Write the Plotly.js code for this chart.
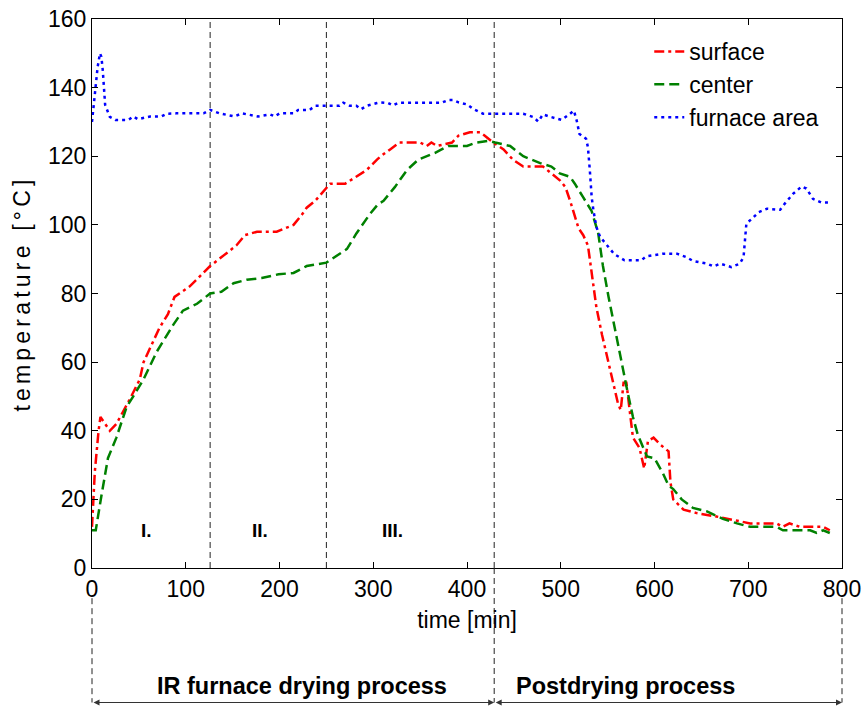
<!DOCTYPE html>
<html>
<head>
<meta charset="utf-8">
<script src="https://cdn.plot.ly/plotly-3.0.1.min.js"></script>
<style>
html,body{margin:0;padding:0;background:#fff;}
#chart{width:866px;height:706px;}
#chart .ytitle{letter-spacing:4.2px;}
</style>
</head>
<body>
<div id="chart"></div>
<script>
// ---- data (time in min, temperature in °C) ----
const surfaceTime = [0,3,7,9,14,19,26,40,51,55,72,81,88,104,126,140,154,163,176,197,215,224,229,238,250,254,270,282,293,304,308,318,328,350,357,362,368,384,391,403,414,419,428,439,449,460,474,481,490,499,505,510,519,524,529,533,538,544,549,556,561,564,567,570,574,577,584,589,593,599,606,615,617,620,631,645,666,684,702,730,737,744,755,766,780,787];
const surfaceTemp = [12,28,40,44,42,40,42,49,55,60,70,74,79,82,88,91,94,97,98,98,100,103,105,107,111,112,112,114,116,119,120,122,124,124,123,124,123,124,126,127,127,126,124,122,119,117,117,117,115,113,111,107,99,97,94,86,76,68,62,54,48,46,54,54,44,38,35,29,37,38,36,34,25,20,17,16,15,14,13,13,12,13,12,12,12,11];

const centerTime = [0,4,10,17,26,37,44,55,69,87,97,112,126,138,151,165,181,199,215,229,250,272,282,296,305,311,323,336,348,366,380,400,410,423,430,446,460,478,490,499,510,515,524,533,540,545,551,556,563,570,577,582,585,590,592,600,609,615,620,629,641,656,673,688,702,730,737,766,773,780,787];
const centerTemp = [11,11,21,32,38,47,50,55,63,71,75,77,80,80.5,83,84,84.5,85.6,86,88,89,93,97.5,103,106,107,111,116,119,121,123,123,124,124.5,124,123,120,118,117,115,114,112,108,104,97.5,88,79,72,62,53,44,39,37,34,32.5,32,27.6,24,23,20,17.5,16.5,14.3,13,12,12,11,11,10.2,11,10.2];

const furnaceTime = [0,3,6,8.5,10,11.5,14,19,25,39,44,49,62,74,80,90,119,126,136,152,160,177,190,195,200,215,220,232,238,264,268,275,282,287,293,304,307,316,321,327,373,380,385,391,400,407,417,460,471,476,481,490,501,510,514,517,520,527,529,531,533,535,538,542,549,557,568,586,591,600,609,624,634,641,656,663,670,682,691,695,698,704,711,720,734,739,748,757,762,769,778,787];
const furnaceTemp = [130,139,146,150,149,145,135,131.5,130.6,130.6,131.6,130.8,131.6,131.6,132.4,132.5,132.5,133.5,132.5,131.6,132.5,131.6,132.2,131.6,132.5,132.5,133.5,133.5,134.7,134.7,135.6,134.7,134.7,133.7,134.7,135.5,135.7,135.5,134.8,135.6,135.6,136.4,136.4,135.7,135.1,133.7,132.4,132.4,131.4,130.1,132.2,131.4,130.6,132.4,133.3,130.4,126.5,125.1,122.6,116,108,104,99.4,96.5,94,91.5,89.7,89.7,90.8,91.2,91.6,91.6,90.6,89.5,88.7,87.9,88.7,87.7,88.7,90.6,100.4,101.8,103.7,104.7,104.4,106.2,109.1,111.2,110.6,107.6,106.5,106.5];

const seriesNames = ["surface", "center", "furnace area"];
const phaseBounds = [126, 250, 429];          // dashed lines inside the plot
const processBounds = [0, 429, 800];          // dashed lines below the plot
const phaseLabels = ["I.", "II.", "III."];
const phaseLabelTime = [58, 179, 320];
const phaseLabelTemp = [11, 11, 11];
const processLabels = ["IR furnace drying process", "Postdrying process"];
const processLabelTime = [223.5, 569.5];
const xTicks = [0,100,200,300,400,500,600,700,800];
const yTicks = [0,20,40,60,80,100,120,140,160];
const xRange = [0, 800];
const yRange = [0, 160];

// ---- figure ----
const FONT = '"Liberation Sans", Arial, Helvetica, sans-serif';
const traces = [
  {x: surfaceTime, y: surfaceTemp, name: seriesNames[0], mode: 'lines',
   line: {color: '#ff0000', width: 2.5, dash: '10px,4px,3px,4px'}},
  {x: centerTime, y: centerTemp, name: seriesNames[1], mode: 'lines',
   line: {color: '#008000', width: 2.5, dash: '10px,5px'}},
  {x: furnaceTime, y: furnaceTemp, name: seriesNames[2], mode: 'lines',
   line: {color: '#0000ff', width: 2.5, dash: '3px,4px'}}
];

const span = xRange[1] - xRange[0];
const toPaper = t => (t - xRange[0]) / span;
const bottomY = -0.245;

const shapes = [];
phaseBounds.forEach(t => shapes.push({type: 'line', xref: 'x', yref: 'y', x0: t, x1: t, y0: yRange[0], y1: yRange[1],
  line: {color: '#222', width: 1, dash: '6px,4px'}, layer: 'below'}));
processBounds.forEach((t, i) => {
  const top = (i === 1) ? 0 : -0.055;
  shapes.push({type: 'line', xref: 'paper', yref: 'paper', x0: toPaper(t), x1: toPaper(t), y0: top, y1: bottomY,
    line: {color: '#222', width: 1, dash: '6px,4px'}});
});

const annotations = [];
phaseLabels.forEach((txt, i) => annotations.push({text: '<b>' + txt + '</b>', x: phaseLabelTime[i], y: phaseLabelTemp[i],
  xref: 'x', yref: 'y', showarrow: false, font: {family: FONT, size: 19, color: '#000'}}));
processLabels.forEach((txt, i) => annotations.push({text: '<b>' + txt + '</b>',
  x: processLabelTime[i], y: -0.242,
  xref: 'x', yref: 'paper', showarrow: false, font: {family: FONT, size: 23.5, color: '#000'}}));
for (let i = 0; i < 2; i++) {
  annotations.push({text: '', xref: 'paper', yref: 'paper', axref: 'paper', ayref: 'paper',
    x: toPaper(processBounds[i + 1]), y: bottomY, ax: toPaper(processBounds[i]), ay: bottomY,
    showarrow: true, arrowside: 'end+start', arrowhead: 2, arrowsize: 1, arrowwidth: 1.2, arrowcolor: '#333',
    standoff: 0, startstandoff: 0});
}

const axisCommon = {showline: true, linecolor: '#000', linewidth: 1, mirror: 'ticks', ticks: 'inside',
  ticklen: 6, tickcolor: '#000', showgrid: false, zeroline: false,
  tickfont: {family: FONT, size: 23, color: '#000'}};

const layout = {
  width: 866, height: 706,
  margin: {l: 92, r: 24, t: 19, b: 138},
  paper_bgcolor: '#fff', plot_bgcolor: '#fff',
  font: {family: FONT, color: '#000'},
  xaxis: Object.assign({}, axisCommon, {range: xRange, tickvals: xTicks, ticktext: xTicks.map(String),
    title: {text: 'time [min]', font: {family: FONT, size: 23, color: '#000'}, standoff: 11}}),
  yaxis: Object.assign({}, axisCommon, {range: yRange, tickvals: yTicks, ticktext: yTicks.map(String),
    title: {text: 'temperature [°C]', font: {family: FONT, size: 23, color: '#000'}, standoff: 10}}),
  showlegend: true,
  legend: {x: 0.743, y: 0.98, xanchor: 'left', yanchor: 'top', bgcolor: 'rgba(0,0,0,0)',
    font: {family: FONT, size: 23, color: '#000'}, tracegroupgap: 0},
  shapes: shapes,
  annotations: annotations
};

Plotly.newPlot('chart', traces, layout, {staticPlot: true, displayModeBar: false});
</script>
</body>
</html>
